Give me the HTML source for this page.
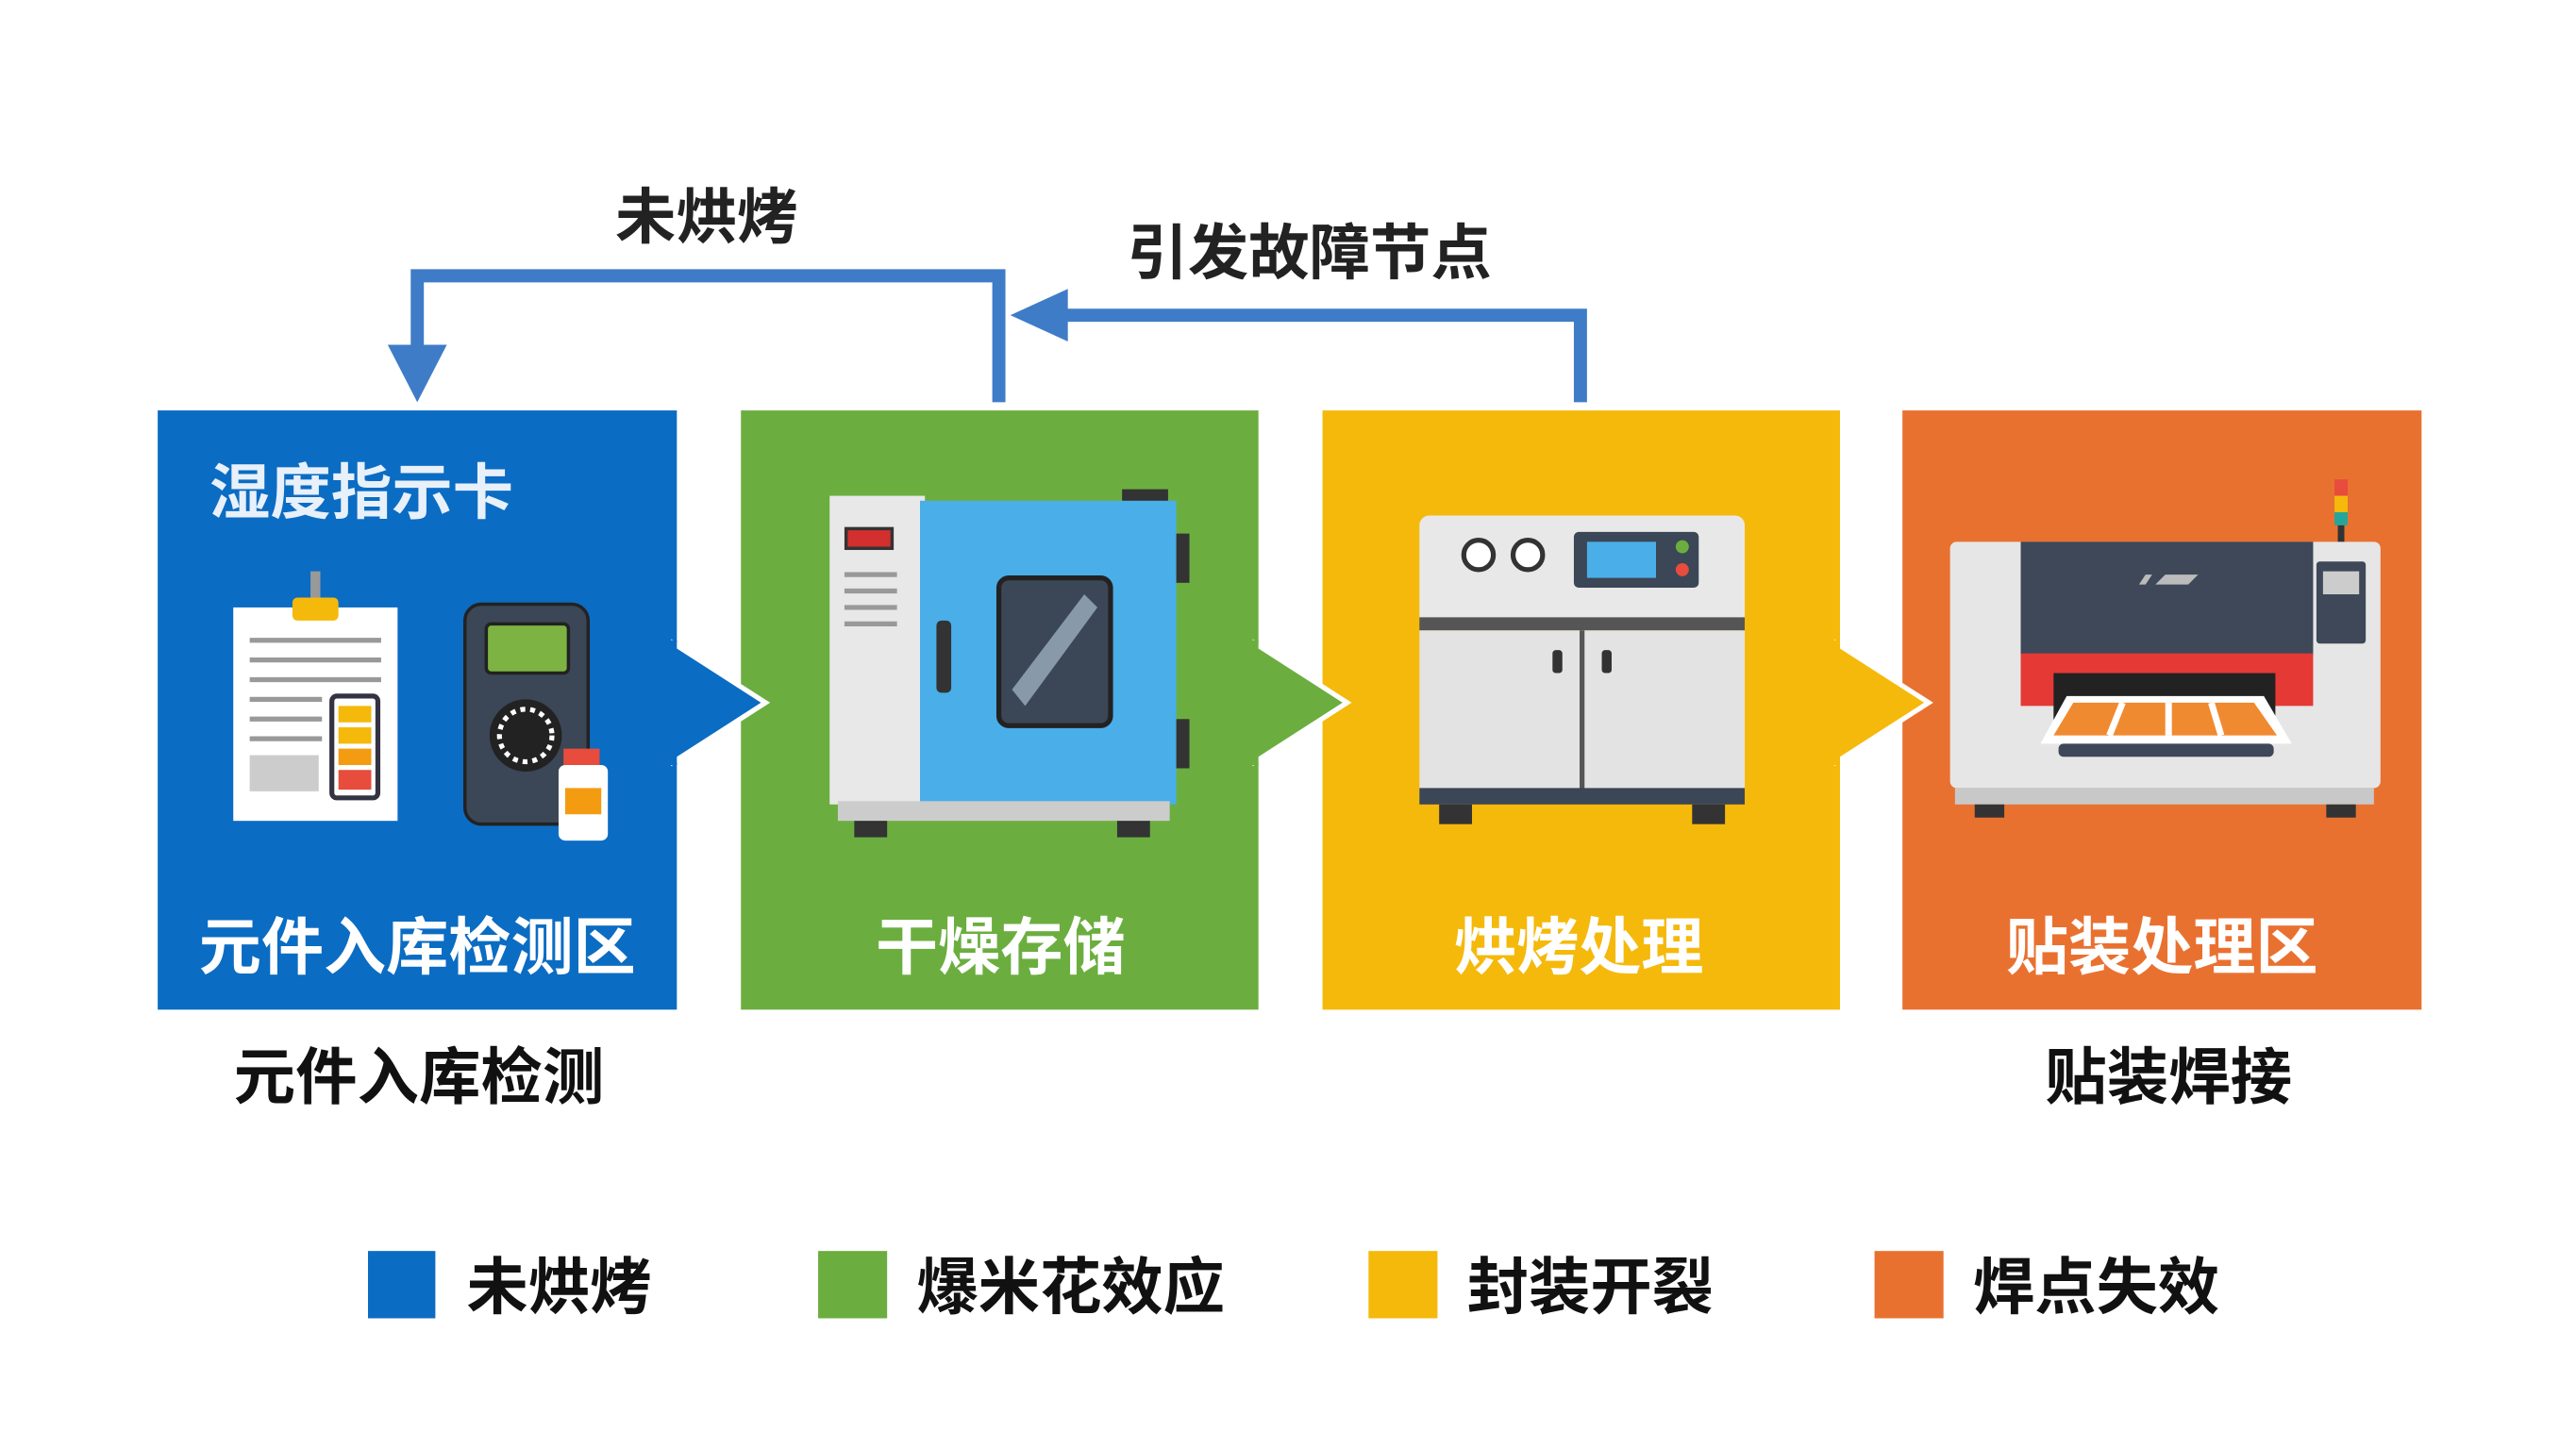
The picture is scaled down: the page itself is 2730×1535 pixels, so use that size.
<!DOCTYPE html>
<html><head><meta charset="utf-8">
<style>
html,body{margin:0;padding:0;background:#fff;}
svg{display:block;}
text{font-family:"Liberation Sans","Noto Sans CJK SC",sans-serif;font-weight:700;}
</style></head>
<body>
<svg width="2730" height="1535" viewBox="0 0 1568 882" preserveAspectRatio="none" xmlns="http://www.w3.org/2000/svg">
<rect width="1568" height="882" fill="#fff"/>
<polyline points="608,245 608,168 254,168 254,212" fill="none" stroke="#3F7CC8" stroke-width="8"/>
<polygon points="236,210 272,210 254,245" fill="#3F7CC8"/>
<polyline points="962,245 962,192 648,192" fill="none" stroke="#3F7CC8" stroke-width="8"/>
<polygon points="650,176 650,208 615,192" fill="#3F7CC8"/>
<text x="430" y="145" font-size="37" text-anchor="middle" fill="#222">未烘烤</text>
<text x="797" y="167" font-size="37" text-anchor="middle" fill="#222">引发故障节点</text>

<rect x="96" y="250" width="316" height="365" fill="#0B6CC3"/>
<rect x="451" y="250" width="315" height="365" fill="#6BAE3F"/>
<rect x="805" y="250" width="315" height="365" fill="#F5B90C"/>
<rect x="1158" y="250" width="316" height="365" fill="#E97130"/>
<polygon points="410,392 466,428 410,464" fill="#0B6CC3" stroke="#fff" stroke-width="3"/>
<rect x="405" y="390" width="7" height="76" fill="#0B6CC3"/>
<polygon points="764,392 820,428 764,464" fill="#6BAE3F" stroke="#fff" stroke-width="3"/>
<rect x="759" y="390" width="7" height="76" fill="#6BAE3F"/>
<polygon points="1118,392 1174,428 1118,464" fill="#F5B90C" stroke="#fff" stroke-width="3"/>
<rect x="1113" y="390" width="7" height="76" fill="#F5B90C"/>

<text x="220" y="313" font-size="37" text-anchor="middle" fill="#E8F0FA">湿度指示卡</text>
<rect x="142" y="370" width="100" height="130" fill="#fff"/>
<rect x="178" y="364" width="28" height="14" rx="3" fill="#F5B90C"/>
<rect x="189" y="348" width="6" height="16" fill="#999"/>
<g stroke="#999" stroke-width="3">
<line x1="152" y1="390" x2="232" y2="390"/><line x1="152" y1="402" x2="232" y2="402"/>
<line x1="152" y1="414" x2="232" y2="414"/><line x1="152" y1="426" x2="196" y2="426"/>
<line x1="152" y1="438" x2="196" y2="438"/><line x1="152" y1="450" x2="196" y2="450"/></g>
<rect x="152" y="460" width="42" height="22" fill="#ccc"/>
<rect x="202" y="424" width="28" height="62" rx="3" fill="#fff" stroke="#334" stroke-width="3"/>
<rect x="206" y="430" width="20" height="10" fill="#F5B90C"/><rect x="206" y="443" width="20" height="10" fill="#F5B90C"/>
<rect x="206" y="456" width="20" height="10" fill="#F39C12"/><rect x="206" y="469" width="20" height="12" fill="#E74C3C"/>
<rect x="283" y="368" width="75" height="134" rx="10" fill="#3B4656" stroke="#222" stroke-width="2"/>
<rect x="296" y="380" width="50" height="30" rx="3" fill="#7CB342" stroke="#222" stroke-width="2"/>
<circle cx="320" cy="448" r="22" fill="#222"/><circle cx="320" cy="448" r="16" fill="none" stroke="#fff" stroke-width="3" stroke-dasharray="3 3"/>
<rect x="343" y="456" width="22" height="10" fill="#E74C3C"/>
<rect x="340" y="466" width="30" height="46" rx="4" fill="#fff"/>
<rect x="344" y="480" width="22" height="16" fill="#F39C12"/>
<text x="254" y="590" font-size="38" text-anchor="middle" fill="#fff">元件入库检测区</text>

<rect x="505" y="302" width="58" height="188" fill="#E8E8E8"/>
<rect x="515" y="322" width="28" height="12" fill="#D32F2F" stroke="#333" stroke-width="2"/>
<g stroke="#999" stroke-width="3"><line x1="514" y1="350" x2="546" y2="350"/><line x1="514" y1="360" x2="546" y2="360"/><line x1="514" y1="370" x2="546" y2="370"/><line x1="514" y1="380" x2="546" y2="380"/></g>
<rect x="683" y="298" width="28" height="8" fill="#333"/>
<rect x="560" y="305" width="156" height="185" fill="#4AAEE8"/>
<rect x="716" y="325" width="8" height="30" fill="#333"/><rect x="716" y="438" width="8" height="30" fill="#333"/>
<rect x="570" y="378" width="9" height="44" rx="3" fill="#333"/>
<rect x="608" y="352" width="68" height="90" rx="6" fill="#3B4656" stroke="#222" stroke-width="3"/>
<polygon points="616,420 660,362 668,370 624,430" fill="#8899AA"/>
<rect x="510" y="488" width="202" height="12" fill="#ccc"/>
<rect x="520" y="500" width="20" height="10" fill="#333"/><rect x="680" y="500" width="20" height="10" fill="#333"/>
<text x="609" y="590" font-size="38" text-anchor="middle" fill="#fff">干燥存储</text>

<rect x="864" y="314" width="198" height="68" rx="6" fill="#E8E8E8"/>
<circle cx="900" cy="338" r="9" fill="#fff" stroke="#333" stroke-width="3"/>
<circle cx="930" cy="338" r="9" fill="#fff" stroke="#333" stroke-width="3"/>
<rect x="958" y="324" width="76" height="34" rx="3" fill="#3B4656"/>
<rect x="966" y="330" width="42" height="22" fill="#4AAEE8"/>
<circle cx="1024" cy="333" r="4" fill="#6BAE3F"/><circle cx="1024" cy="347" r="4" fill="#E74C3C"/>
<rect x="864" y="376" width="198" height="8" fill="#555"/>
<rect x="864" y="384" width="198" height="104" fill="#E3E3E3"/>
<line x1="963" y1="384" x2="963" y2="488" stroke="#555" stroke-width="3"/>
<rect x="945" y="396" width="6" height="14" rx="2" fill="#333"/><rect x="975" y="396" width="6" height="14" rx="2" fill="#333"/>
<rect x="864" y="480" width="198" height="10" fill="#3B4656"/>
<rect x="876" y="490" width="20" height="12" fill="#333"/><rect x="1030" y="490" width="20" height="12" fill="#333"/>
<text x="961" y="590" font-size="38" text-anchor="middle" fill="#fff">烘烤处理</text>

<rect x="1421" y="292" width="8" height="10" fill="#E74C3C"/><rect x="1421" y="302" width="8" height="10" fill="#F5B90C"/>
<rect x="1421" y="312" width="8" height="8" fill="#26A69A"/><rect x="1423" y="320" width="4" height="12" fill="#333"/>
<rect x="1187" y="330" width="262" height="150" rx="4" fill="#E6E6E6"/>
<rect x="1230" y="330" width="178" height="70" fill="#3E4858"/>
<polygon points="1302,356 1306,350 1310,350 1306,356" fill="#bbb"/><polygon points="1312,356 1318,350 1338,350 1332,356" fill="#bbb"/>
<rect x="1410" y="342" width="30" height="50" rx="2" fill="#3E4858"/>
<rect x="1414" y="348" width="22" height="14" fill="#ccc"/>
<rect x="1230" y="398" width="178" height="32" fill="#E53935"/>
<rect x="1250" y="410" width="135" height="30" fill="#222"/>
<polygon points="1242,453 1258,424 1378,424 1395,453" fill="#fff"/>
<polygon points="1250,448 1262,428 1372,428 1386,448" fill="#F08A30"/>
<g stroke="#fff" stroke-width="4"><line x1="1292" y1="428" x2="1284" y2="448"/><line x1="1320" y1="428" x2="1320" y2="448"/><line x1="1346" y1="428" x2="1352" y2="448"/></g>
<rect x="1253" y="453" width="131" height="8" rx="3" fill="#3E4858"/>
<rect x="1190" y="480" width="255" height="10" fill="#C8C8C8"/>
<rect x="1202" y="490" width="18" height="8" fill="#333"/><rect x="1416" y="490" width="18" height="8" fill="#333"/>
<text x="1316" y="590" font-size="38" text-anchor="middle" fill="#fff">贴装处理区</text>

<text x="255" y="669" font-size="37.6" text-anchor="middle" fill="#111">元件入库检测</text>
<text x="1320" y="669" font-size="37.6" text-anchor="middle" fill="#111">贴装焊接</text>

<rect x="224" y="762" width="41" height="41" fill="#0B6CC3"/>
<text x="284" y="797" font-size="37.5" fill="#111">未烘烤</text>
<rect x="498" y="762" width="42" height="41" fill="#6BAE3F"/>
<text x="558" y="797" font-size="37.5" fill="#111">爆米花效应</text>
<rect x="833" y="762" width="42" height="41" fill="#F5B90C"/>
<text x="893" y="797" font-size="37.5" fill="#111">封装开裂</text>
<rect x="1141" y="762" width="42" height="41" fill="#E97130"/>
<text x="1201" y="797" font-size="37.5" fill="#111">焊点失效</text>
</svg>
</body></html>
